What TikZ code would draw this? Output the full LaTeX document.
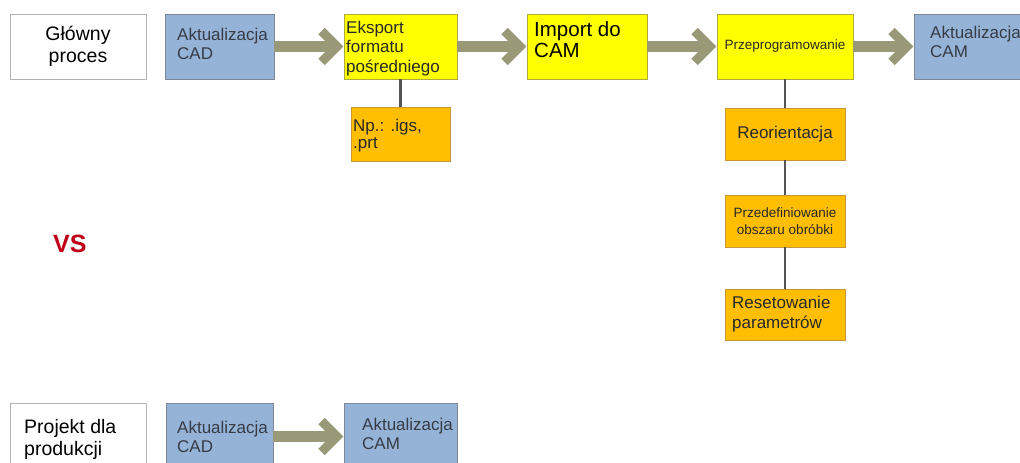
\documentclass[tikz,border=0pt]{standalone}
\usepackage{fontspec}
\setmainfont{Liberation Sans}
\usetikzlibrary{calc}
\definecolor{boxblue}{RGB}{149,179,215}
\definecolor{boxblueline}{RGB}{125,135,150}
\definecolor{boxyellow}{RGB}{255,255,0}
\definecolor{boxyellowline}{RGB}{175,170,60}
\definecolor{boxorange}{RGB}{255,190,0}
\definecolor{boxorangeline}{RGB}{200,150,50}
\definecolor{flowolive}{RGB}{153,153,120}
\definecolor{linkgray}{RGB}{85,85,85}
\definecolor{vsred}{RGB}{192,0,24}
\definecolor{txtdark}{RGB}{40,40,40}
\definecolor{txtblue}{RGB}{55,60,70}
\newcommand{\flowarrow}[2]{%
  \draw[flowshaft] (#1.east) -- ([xshift=-8pt]#2.west);
  \draw[flowhead] ([xshift=-22pt,yshift=15.5pt]#2.west) -- ([xshift=-6.5pt]#2.west) -- ([xshift=-22pt,yshift=-15.5pt]#2.west);
}
\begin{document}
\begin{tikzpicture}[x=1pt,y=-1pt,
  boxbase/.style={rectangle, inner sep=0pt, line width=0.8pt},
  whitebox/.style={boxbase, draw=black!30, fill=white},
  bluebox/.style={boxbase, draw=boxblueline, fill=boxblue},
  yellowbox/.style={boxbase, draw=boxyellowline, fill=boxyellow},
  orangebox/.style={boxbase, draw=boxorangeline, fill=boxorange},
  lefttext/.style={anchor=north west, inner sep=0pt, align=left},
  flowshaft/.style={draw=flowolive, line width=11pt},
  flowhead/.style={draw=flowolive, line width=9pt, miter limit=10, line join=miter, line cap=butt},
  link/.style={draw=linkgray, line width=2.4pt},
  f17/.style={font=\fontsize{17}{19.5}\selectfont}
]
\useasboundingbox (0,0) rectangle (1020,463);
\fill[white] (0,0) rectangle (1020,463);
\clip (0,0) rectangle (1020,463);

% ---- top row ----
\node[whitebox, minimum width=136pt, minimum height=65pt, align=center,
      font=\fontsize{19.5}{22}\selectfont, text=black] (glowny) at (78,46.5) {Główny\\proces};

\node[bluebox, minimum width=109pt, minimum height=65pt] (cadT) at (219.5,46.5) {};
\node[lefttext, f17, text=txtblue] (cadTt) at (177,27.8) {Aktualizacja\\CAD};

\node[yellowbox, minimum width=113pt, minimum height=65pt] (exp) at (400.5,46.5) {};
\node[lefttext, f17, text=txtdark] (expt) at (346,20.8) {Eksport\\formatu\\pośredniego};

\node[yellowbox, minimum width=120pt, minimum height=65pt] (imp) at (587,46.5) {};
\node[lefttext, font=\fontsize{20.5}{21}\selectfont, text=black] (impt) at (534,21) {Import do\\CAM};

\node[yellowbox, minimum width=136pt, minimum height=65pt,
      font=\fontsize{13.5}{16}\selectfont, text=txtdark] (prz) at (785,46.5) {Przeprogramowanie};

\node[bluebox, minimum width=111pt, minimum height=65pt] (camT) at (969.5,46.5) {};
\node[lefttext, f17, text=txtblue] (camTt) at (930,25.8) {Aktualizacja\\CAM};

% ---- sub boxes ----
\node[orangebox, minimum width=99pt, minimum height=54pt] (np) at (400.5,134) {};
\node[lefttext, font=\fontsize{17}{17}\selectfont, text=txtdark] (npt) at (353,118.8) {Np.: .igs,\\.prt};

\node[orangebox, minimum width=120pt, minimum height=52pt,
      font=\fontsize{17}{19.5}\selectfont, text=txtdark] (reo) at (785,134) {Reorientacja};

\node[orangebox, minimum width=120pt, minimum height=52pt, align=center,
      font=\fontsize{13.5}{17}\selectfont, text=txtdark] (pdf) at (785,221) {Przedefiniowanie\\obszaru obróbki};

\node[orangebox, minimum width=120pt, minimum height=51pt] (rst) at (785,314.5) {};
\node[lefttext, font=\fontsize{17}{20}\selectfont, text=txtdark] (rstt) at (732,295.8) {Resetowanie\\parametrów};

% ---- VS ----
\node[anchor=north west, inner sep=0pt, text=vsred, font=\fontsize{25}{28}\selectfont\bfseries] (vs) at (53,235) {VS};

% ---- bottom row ----
\node[whitebox, minimum width=136pt, minimum height=67pt] (proj) at (78,436.5) {};
\node[lefttext, font=\fontsize{19.5}{22}\selectfont, text=black] (projt) at (24,419) {Projekt dla\\produkcji};

\node[bluebox, minimum width=107pt, minimum height=67pt] (cadB) at (219.5,436.5) {};
\node[lefttext, f17, text=txtblue] (cadBt) at (177,420.8) {Aktualizacja\\CAD};

\node[bluebox, minimum width=113pt, minimum height=67pt] (camB) at (400.5,436.5) {};
\node[lefttext, f17, text=txtblue] (camBt) at (362,417.8) {Aktualizacja\\CAM};

% ---- connectors ----
\draw[link] (exp.south) -- (np.north);
\draw[link] (prz.south) -- (reo.north);
\draw[link] (reo.south) -- (pdf.north);
\draw[link] (pdf.south) -- (rst.north);

\flowarrow{cadT}{exp}
\flowarrow{exp}{imp}
\flowarrow{imp}{prz}
\flowarrow{prz}{camT}
\flowarrow{cadB}{camB}
\end{tikzpicture}
\end{document}
